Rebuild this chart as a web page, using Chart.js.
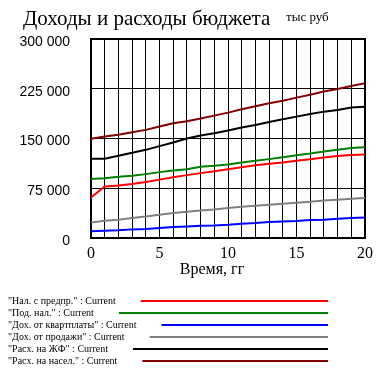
<!DOCTYPE html>
<html>
<head>
<meta charset="utf-8">
<script src="https://cdn.jsdelivr.net/npm/chart.js@4/dist/chart.umd.min.js"></script>
<style>
    html, body { margin: 0; padding: 0; background: #fff; }
    #wrap { width: 390px; height: 376px; }
</style>
</head>
<body>
<div id="wrap"><canvas id="budget-chart" width="390" height="376"></canvas></div>
<script>
// ------------------------------------------------------
// ДАННЫЕ (тыс руб, по годам)
// ------------------------------------------------------
const years = [0, 1, 2, 3, 4, 5, 6, 7, 8, 9, 10, 11, 12, 13, 14, 15, 16, 17, 18, 19, 20];

const nalPredpr = [61000, 77500, 79000, 81500, 84500, 88000, 91500, 94800, 97800, 100800, 103800,
                   106800, 109500, 111800, 113800, 116300, 118800, 121300, 123700, 125200, 126000];
const podNal    = [89000, 90000, 92300, 93800, 96300, 99300, 101800, 103800, 107300, 108800, 110800,
                   113800, 116300, 118900, 121900, 124900, 127300, 130400, 132900, 135500, 137000];
const dohKvart  = [10000, 11000, 11500, 13000, 13500, 15000, 16500, 17500, 18500, 19000, 20000,
                   21500, 22500, 24000, 25000, 25600, 27100, 27500, 29000, 30100, 31000];
const dohProd   = [23500, 26000, 27500, 30000, 32500, 35000, 37600, 39600, 41500, 43000, 45100,
                   47100, 48600, 50100, 51600, 53100, 54600, 56600, 57700, 59200, 60200];
const raskhZhF  = [119400, 119400, 123900, 128400, 132900, 138500, 143900, 150000, 154500, 158000, 162000,
                   166500, 170500, 175000, 179000, 183000, 187000, 190500, 193000, 196600, 198000];
const raskhNas  = [149500, 153000, 155500, 159500, 163000, 168000, 173000, 176000, 180000, 184500, 189000,
                   194000, 198700, 203000, 207000, 211600, 216000, 220700, 224700, 229200, 233300];

const seriesNames = ['"Нал. с предпр." : Current', '"Под. нал." : Current', '"Дох. от квартплаты" : Current',
                     '"Дох. от продажи" : Current', '"Расх. на ЖФ" : Current', '"Расх. на насел." : Current'];
const seriesData = [nalPredpr, podNal, dohKvart, dohProd, raskhZhF, raskhNas];
const seriesColors = ["#ff0000", "#008000", "#0000ff", "#808080", "#000000", "#800000"];

const yTicks = [0, 75000, 150000, 225000, 300000];

const chartTitle = "Доходы и расходы бюджета";
const unitsLabel = "тыс руб";
const xTitle = "Время, гг";

const SERIF = '"Liberation Serif", "Times New Roman", serif';
const SANS = '"Liberation Sans", Arial, sans-serif';

// ------------------------------------------------------
// РАМКА ГРАФИКА
// ------------------------------------------------------
const framePlugin = {
    id: "frame",
    beforeDatasetsDraw(chart) {
        const { ctx, chartArea: a } = chart;
        ctx.save();
        ctx.strokeStyle = "#000";
        ctx.lineWidth = 2;
        ctx.strokeRect(a.left, a.top, a.right - a.left, a.bottom - a.top);
        ctx.restore();
    }
};

// ------------------------------------------------------
// ЗАГОЛОВОК, ПОДПИСЬ ОСИ, ЛЕГЕНДА
// ------------------------------------------------------
const textPlugin = {
    id: "texts",
    afterDraw(chart) {
        const ctx = chart.ctx;
        ctx.save();
        ctx.fillStyle = "#000";
        ctx.textBaseline = "alphabetic";

        ctx.font = "21px " + SERIF;
        ctx.fillText(chartTitle, 23, 25);
        ctx.font = "13px " + SERIF;
        ctx.fillText(unitsLabel, 286, 21);

        ctx.font = "16px " + SERIF;
        ctx.textAlign = "center";
        ctx.textBaseline = "middle";
        ctx.fillText(xTitle, 212, 270);

        // легенда
        ctx.textAlign = "left";
        ctx.font = "10px " + SERIF;
        seriesNames.forEach((name, i) => {
            const y = 301 + i * 12;
            ctx.fillStyle = "#000";
            ctx.fillText(name, 8, y);
            const w = ctx.measureText(name).width;
            ctx.strokeStyle = seriesColors[i];
            ctx.lineWidth = 2;
            ctx.beginPath();
            ctx.moveTo(8 + w + 25, y);
            ctx.lineTo(328, y);
            ctx.stroke();
        });
        ctx.restore();
    }
};

const ctx = document.getElementById("budget-chart").getContext("2d");

new Chart(ctx, {
    type: "line",
    data: {
        datasets: seriesNames.map((name, i) => ({
            label: name,
            data: years.map((t, k) => ({ x: t, y: seriesData[i][k] })),
            borderColor: seriesColors[i],
            borderWidth: 2,
            pointRadius: 0,
            tension: 0,
            fill: false
        }))
    },
    options: {
        responsive: false,
        animation: false,
        layout: { padding: { top: 39, right: 25, left: 0, bottom: 0 } },
        plugins: {
            legend: { display: false },
            tooltip: { enabled: false }
        },
        scales: {
            x: {
                type: "linear",
                min: 0,
                max: 20,
                afterFit: (s) => { s.height = 138; },
                grid: { color: "#000", lineWidth: 1, drawTicks: false },
                border: { display: false },
                ticks: {
                    stepSize: 1,
                    autoSkip: false,
                    maxRotation: 0,
                    padding: 6,
                    color: "#000",
                    font: { family: SERIF, size: 16 },
                    callback: (v) => (v % 5 === 0 ? String(v) : "")
                }
            },
            y: {
                min: 0,
                max: 300000,
                afterFit: (s) => { s.width = 91; },
                afterBuildTicks: (s) => { s.ticks = yTicks.map(v => ({ value: v })); },
                grid: { color: "#000", lineWidth: 1, drawTicks: false },
                border: { display: false },
                ticks: {
                    padding: 21,
                    labelOffset: 3,
                    color: "#000",
                    font: { family: SANS, size: 14 },
                    callback: (v) => String(v).replace(/\B(?=(\d{3})+(?!\d))/g, " ")
                }
            }
        }
    },
    plugins: [framePlugin, textPlugin]
});
</script>
</body>
</html>
